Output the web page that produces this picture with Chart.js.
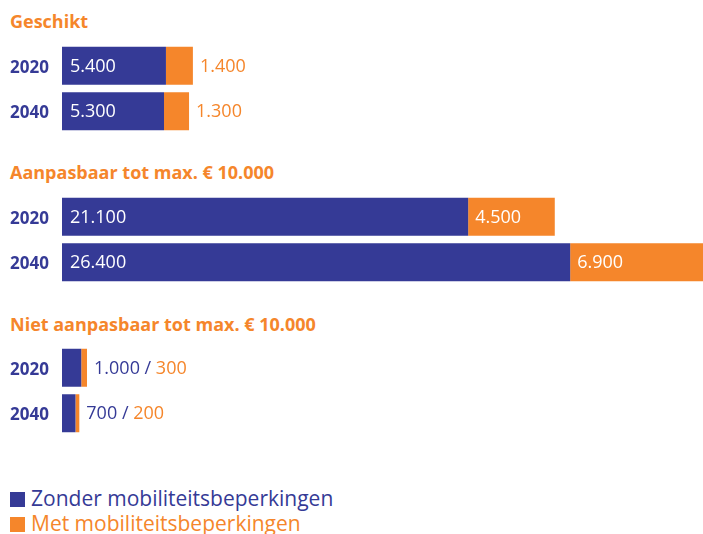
<!DOCTYPE html>
<html lang="nl">
<head>
    <meta charset="UTF-8">
    <title>Woningen naar geschiktheid</title>
    <style>
        body { margin: 0; background: #fff; font-family: "Open Sans", sans-serif; }
        .wrap { position: relative; width: 703px; height: 534px; overflow: hidden; }
        .title { position: absolute; left: 10px; color: #f5862b; font-weight: bold; font-size: 18px; line-height: 20px; white-space: nowrap; }
        .box { position: absolute; left: 0; width: 703px; }
        .legend { position: absolute; left: 10px; top: 486px; font-size: 21px; line-height: 25px; }
        .legend div { white-space: nowrap; }
        .legend span { display: inline-block; width: 15px; height: 15px; margin-right: 6px; vertical-align: -1px; }
    </style>
</head>
<body>
<div class="wrap" id="wrap"></div>
<script src="https://cdn.jsdelivr.net/npm/chart.js@4.4.0/dist/chart.umd.min.js"></script>
<script>
    // data
    var groups = ['Geschikt', 'Aanpasbaar tot max. € 10.000', 'Niet aanpasbaar tot max. € 10.000'];
    var years = ['2020', '2040'];
    var seriesNames = ['Zonder mobiliteitsbeperkingen', 'Met mobiliteitsbeperkingen'];
    var zonder = [[5400, 5300], [21100, 26400], [1000, 700]];
    var met = [[1400, 1300], [4500, 6900], [300, 200]];

    var blue = '#353a96';
    var orange = '#f5862b';
    var labelMode = ['outside', 'inside', 'combined'];
    var titleTop = [11, 162, 314];
    var boxTop = [43, 194, 345];

    function fmt(v) {
        return String(v).replace(/\B(?=(\d{3})+(?!\d))/g, '.');
    }

    var maxTotal = 0;
    for (var g = 0; g < groups.length; g++) {
        for (var i = 0; i < years.length; i++) {
            maxTotal = Math.max(maxTotal, zonder[g][i] + met[g][i]);
        }
    }

    var labelPlugin = {
        id: 'barLabels',
        afterDatasetsDraw: function (chart) {
            var ctx = chart.ctx;
            var mode = chart.options.plugins.barLabels.mode;
            var m0 = chart.getDatasetMeta(0);
            var m1 = chart.getDatasetMeta(1);
            ctx.save();
            ctx.font = '18px "Open Sans", sans-serif';
            ctx.textBaseline = 'middle';
            ctx.textAlign = 'left';
            for (var i = 0; i < m0.data.length; i++) {
                var b0 = m0.data[i], b1 = m1.data[i];
                var v0 = chart.data.datasets[0].data[i];
                var v1 = chart.data.datasets[1].data[i];
                var y = b0.y + 1;
                if (mode === 'combined') {
                    var t = fmt(v0) + ' / ';
                    ctx.fillStyle = blue;
                    ctx.fillText(t, b1.x + 7, y);
                    ctx.fillStyle = orange;
                    ctx.fillText(fmt(v1), b1.x + 7 + ctx.measureText(t).width, y);
                    continue;
                }
                ctx.fillStyle = '#fff';
                ctx.fillText(fmt(v0), b0.base + 8, y);
                if (mode === 'inside') {
                    ctx.fillText(fmt(v1), b1.base + 7, y);
                } else {
                    ctx.fillStyle = orange;
                    ctx.fillText(fmt(v1), b1.x + 7, y);
                }
            }
            ctx.restore();
        }
    };

    var wrap = document.getElementById('wrap');

    groups.forEach(function (name, g) {
        var title = document.createElement('div');
        title.className = 'title';
        title.style.top = titleTop[g] + 'px';
        title.textContent = name;
        wrap.appendChild(title);

        var box = document.createElement('div');
        box.className = 'box';
        box.style.top = boxTop[g] + 'px';
        box.style.height = '91px';
        var canvas = document.createElement('canvas');
        box.appendChild(canvas);
        wrap.appendChild(box);

        new Chart(canvas, {
            type: 'bar',
            data: {
                labels: years,
                datasets: [
                    { label: seriesNames[0], data: zonder[g], backgroundColor: blue },
                    { label: seriesNames[1], data: met[g], backgroundColor: orange }
                ]
            },
            options: {
                indexAxis: 'y',
                responsive: true,
                maintainAspectRatio: false,
                animation: false,
                layout: { autoPadding: false, padding: { left: 10, right: 0, top: 0, bottom: 0 } },
                datasets: { bar: { categoryPercentage: 1, barPercentage: 0.835 } },
                scales: {
                    x: { stacked: true, display: false, min: 0, max: maxTotal },
                    y: {
                        stacked: true,
                        grid: { display: false },
                        border: { display: false },
                        afterFit: function (scale) {
                            scale.width = 52;
                            scale.paddingTop = 0;
                            scale.paddingBottom = 0;
                        },
                        ticks: {
                            crossAlign: 'far',
                            labelOffset: 2,
                            color: blue,
                            font: { family: 'Open Sans', size: 17, weight: 'bold' }
                        }
                    }
                },
                plugins: {
                    legend: { display: false },
                    tooltip: { enabled: false },
                    barLabels: { mode: labelMode[g] }
                }
            },
            plugins: [labelPlugin]
        });
    });

    // legend
    var legend = document.createElement('div');
    legend.className = 'legend';
    seriesNames.forEach(function (s, k) {
        var row = document.createElement('div');
        var col = k === 0 ? blue : orange;
        row.style.color = col;
        row.innerHTML = '<span style="background:' + col + '"></span>' + s;
        legend.appendChild(row);
    });
    wrap.appendChild(legend);
</script>
</body>
</html>
